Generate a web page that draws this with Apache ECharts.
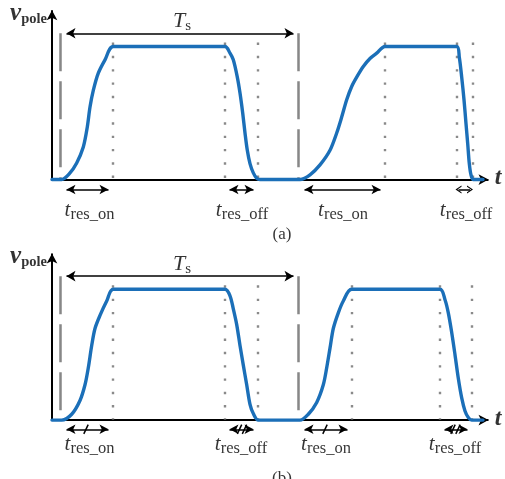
<!DOCTYPE html>
<html>
<head>
<meta charset="utf-8">
<script src="https://cdn.jsdelivr.net/npm/echarts@6/dist/echarts.min.js"></script>
<style>
  html, body { margin: 0; padding: 0; background: #fff; }
  #chart { width: 505px; height: 479px; }
</style>
</head>
<body>
<div id="chart"></div>
<script>
// time in units of the drawing (1 unit ~ 10px), t = 0 on the v axis
// voltage normalised: 0 = axis, 1 = plateau

// (a) resonant transitions
var waveA = [[0, 0], [0.97, 0], [1.7, 0.04], [2.47, 0.125], [3.13, 0.245], [3.53, 0.395], [3.8, 0.545],
  [4.13, 0.67], [4.63, 0.8], [5.3, 0.9], [6.13, 1],
  [17.3, 1], [17.8, 0.95], [18.13, 0.9], [18.53, 0.77], [18.8, 0.65], [19.07, 0.5], [19.3, 0.35],
  [19.53, 0.22], [19.8, 0.12], [20.13, 0.05], [20.47, 0.01], [20.8, 0],
  [24.8, 0], [25.8, 0.035], [26.8, 0.11], [27.8, 0.22], [28.47, 0.35], [28.97, 0.47], [29.47, 0.6],
  [29.97, 0.7], [30.47, 0.77], [31.13, 0.85], [31.8, 0.91], [32.47, 0.95], [33.3, 1],
  [40.47, 1], [40.73, 0.92], [40.97, 0.77], [41.2, 0.6], [41.4, 0.42], [41.57, 0.27], [41.73, 0.12],
  [41.9, 0.035], [42.13, 0], [43.1, 0]];
// (b)
var waveB = [[0, 0], [0.97, 0], [1.97, 0.045], [2.8, 0.15], [3.3, 0.27], [3.63, 0.4], [3.97, 0.57],
  [4.3, 0.7], [4.8, 0.8], [5.47, 0.91], [6.13, 1],
  [17.3, 1], [17.8, 0.95], [18.13, 0.85], [18.47, 0.73], [18.8, 0.57], [19.13, 0.42], [19.47, 0.27],
  [19.8, 0.12], [20.13, 0.05], [20.63, 0],
  [24.8, 0], [25.63, 0.045], [26.47, 0.135], [27.13, 0.27], [27.47, 0.4], [27.8, 0.55], [28.13, 0.7],
  [28.63, 0.82], [29.13, 0.91], [29.97, 1],
  [38.8, 1], [39.3, 0.92], [39.63, 0.82], [39.97, 0.67], [40.3, 0.5], [40.63, 0.32], [40.97, 0.17],
  [41.3, 0.07], [41.63, 0.02], [41.97, 0], [43.1, 0]];

var tsBounds = [0.85, 24.65];          // switching period edges (gray dashed)
var tsArrowTips = [1.0, 24.6];
var markersA = [6.1, 17.3, 20.6, 33.3, 40.5, 42.1];   // dotted guides
var markersB = [6.1, 17.3, 20.6, 30.0, 38.8, 42.0];
var spansA = [[1.0, 6.1], [17.3, 20.6], [24.8, 33.3], [40.35, 42.1]];
var spansB = [[1.0, 6.1], [17.3, 20.6], [24.8, 30.0], [38.8, 42.0]];
var spanNames = ['res_on', 'res_off', 'res_on', 'res_off'];
var labelPosA = [3.75, 19.0, 29.1, 41.4];
var labelPosB = [3.75, 18.9, 27.4, 40.3];
var slashB = [3.4, 18.75, 19.25, 27.3, 40.1, 40.6];

var FONT = 'Liberation Serif';
var BLUE = '#1b6fb8';

var panels = [
  { top: 0, wave: waveA, markers: markersA, spans: spansA, labels: labelPosA, labelV: -0.235,
    arrowV: -0.075, slashes: [], tag: '(a)', tagV: -0.415, openLast: true },
  { top: 243.45, wave: waveB, markers: markersB, spans: spansB, labels: labelPosB, labelV: -0.19,
    arrowV: -0.07, slashes: slashB, tag: '(b)', tagV: -0.445, openLast: false }
];

var rich = {
  t: { fontFamily: FONT, fontStyle: 'italic', fontSize: 21, lineHeight: 24, color: '#000', verticalAlign: 'middle' },
  s: { fontFamily: FONT, fontSize: 16.5, lineHeight: 16, color: '#000', verticalAlign: 'bottom' },
  T: { fontFamily: FONT, fontStyle: 'italic', fontSize: 22, lineHeight: 24, color: '#000', verticalAlign: 'middle' },
  ts: { fontFamily: FONT, fontSize: 15, lineHeight: 16, color: '#000', verticalAlign: 'bottom' },
  v: { fontFamily: FONT, fontStyle: 'italic', fontWeight: 'bold', fontSize: 25, lineHeight: 27, color: '#000', verticalAlign: 'middle' },
  p: { fontFamily: FONT, fontWeight: 'bold', fontSize: 14.5, lineHeight: 16, color: '#000', verticalAlign: 'bottom' },
  ax: { fontFamily: FONT, fontStyle: 'italic', fontWeight: 'bold', fontSize: 24, color: '#000' },
  tag: { fontFamily: FONT, fontSize: 17, color: '#000' }
};

var axisStyle = { color: '#000', width: 2, type: 'solid' };
var thinStyle = { color: '#000', width: 1.5, type: 'solid' };
var dashStyle = { color: '#878787', width: 2.5, type: [38, 10] };
var dotStyle = { color: '#8a8a8a', width: 2.4, type: [2.4, 10.9] };
var CHEVRON = 'path://M5,0 L10,10 L8.4,10 L5,3.2 L1.6,10 L0,10 Z';

function seg(a, b, style, s0, s1, size) {
  return [
    { coord: a, symbol: s0 || 'none', symbolSize: size, lineStyle: style },
    { coord: b, symbol: s1 || 'none', symbolSize: size }
  ];
}

var grids = [], xAxes = [], yAxes = [], series = [];

panels.forEach(function (p, i) {
  grids.push({ left: 2, width: 500, top: p.top, height: 239.4 });
  xAxes.push({ type: 'value', gridIndex: i, min: -5, max: 45, show: false });
  yAxes.push({ type: 'value', gridIndex: i, min: -0.45, max: 1.35, show: false });

  var h = 0.45;   // half an arrow head, in time units
  var lines = [];
  // axes with arrows
  lines.push(seg([0, 0], [44.1 - h, 0], axisStyle, 'none', 'arrow', [8, 10]));
  lines.push(seg([0, 0], [0, 1.31 - 0.037], axisStyle, 'none', 'arrow', [8, 10]));
  // period Ts
  tsBounds.forEach(function (t) {
    lines.push(seg([t, 1.1], [t, 0], dashStyle));
  });
  lines.push(seg([tsArrowTips[0] + h, 1.1], [tsArrowTips[1] - h, 1.1], thinStyle, 'arrow', 'arrow', [8, 9]));
  // dotted guides
  p.markers.forEach(function (t) {
    lines.push(seg([t, 1.03], [t, 0.005], dotStyle));
  });
  // resonant interval arrows
  p.spans.forEach(function (s, k) {
    var open = p.openLast && k === p.spans.length - 1;
    var hh = open ? 0.3 : h;
    lines.push(seg([s[0] + hh, p.arrowV], [s[1] - hh, p.arrowV], thinStyle,
      open ? CHEVRON : 'arrow', open ? CHEVRON : 'arrow', open ? [8, 6] : [7, 9]));
  });
  p.slashes.forEach(function (t) {
    lines.push(seg([t - 0.22, p.arrowV - 0.035], [t + 0.22, p.arrowV + 0.035], thinStyle));
  });

  series.push({
    name: 'v_pole ' + p.tag,
    type: 'line',
    xAxisIndex: i,
    yAxisIndex: i,
    data: p.wave,
    smooth: 0.3,
    symbol: 'none',
    z: 3,
    lineStyle: { color: BLUE, width: 3.4, cap: 'round', join: 'round' },
    markLine: {
      silent: true,
      z: 1,
      symbol: 'none',
      label: { show: false },
      data: lines
    }
  });

  var texts = [
    { value: [-2.35, 1.25], label: { formatter: '{v|v}{p|pole}' } },
    { value: [13.0, 1.19], label: { formatter: '{T|T}{ts|s}' } },
    { value: [44.6, 0.01], label: { formatter: '{ax|t}' } },
    { value: [23, p.tagV], label: { formatter: '{tag|' + p.tag + '}' } }
  ];
  p.labels.forEach(function (t, k) {
    texts.push({ value: [t, p.labelV], label: { formatter: '{t|t}{s|' + spanNames[k] + '}' } });
  });

  series.push({
    type: 'scatter',
    xAxisIndex: i,
    yAxisIndex: i,
    symbolSize: 0,
    itemStyle: { color: 'rgba(0,0,0,0)' },
    silent: true,
    z: 5,
    label: { show: true, position: 'inside', rich: rich },
    data: texts
  });
});

var chart = echarts.init(document.getElementById('chart'));
chart.setOption({
  animation: false,
  backgroundColor: '#fff',
  grid: grids,
  xAxis: xAxes,
  yAxis: yAxes,
  series: series
});
</script>
</body>
</html>
